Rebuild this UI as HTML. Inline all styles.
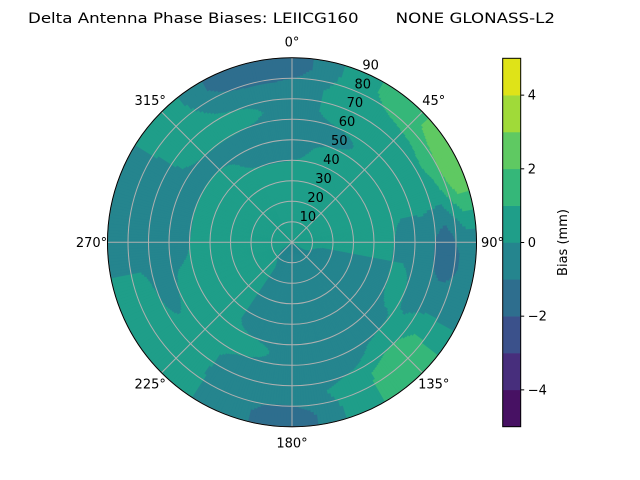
<!DOCTYPE html>
<html><head><meta charset="utf-8"><style>
body{margin:0;background:#fff;}
svg{display:block;font-family:"DejaVu Sans","Liberation Sans",sans-serif;}
</style></head><body>
<svg id="chart" width="640" height="480" viewBox="0 0 640 480">
<text x="28" y="23" font-size="14.5" textLength="527" lengthAdjust="spacingAndGlyphs" style="white-space:pre">Delta Antenna Phase Biases: LEIICG160       NONE GLONASS-L2</text>
<circle cx="292" cy="242.3" r="184.5" fill="#25858e"/>
<g id="field"></g>
<g id="grid"></g>
<circle cx="292" cy="242.3" r="184.5" fill="none" stroke="#000" stroke-width="1"/>
<g id="labels" font-size="13"></g>
<g id="cbar"></g>
<text transform="translate(567,242.5) rotate(-90)" text-anchor="middle" font-size="13">Bias (mm)</text>
</svg>
<script>
// azimuths (deg, clockwise from north) and ring values (elevation bins 0..8)
const azimuths = [0,22.5,45,67.5,90,112.5,135,157.5,180,202.5,225,247.5,270,292.5,315,337.5];
const biasGrid = [
 [0.5,0.5,0.5,0.5,-0.5,-0.5,-0.5,-0.5,-1.5],
 [0.5,0.5,0.5,0.5,0.5,-0.5,0.5,0.5,0.5],
 [0.5,0.5,0.5,0.5,0.5,0.5,0.5,0.9,1.8],
 [0.5,0.5,0.5,0.5,0.5,0.5,0.5,0.9,2.8],
 [0.5,0.5,0.5,0.5,0.5,-0.5,-0.5,-1.5,-0.5],
 [0.5,-0.5,-0.5,-0.5,-0.5,0.5,-0.5,-0.5,-0.5],
 [-0.5,-0.5,-0.5,-0.5,-0.5,-0.5,0.5,1.5,1.5],
 [-0.5,-0.5,-0.5,-0.5,-0.5,-0.5,-0.5,0.5,0.5],
 [-0.5,-0.5,-0.5,-0.5,-0.5,-0.5,-0.5,-0.5,-1.5],
 [-0.5,-0.5,-0.5,-0.5,-0.5,0.5,-0.5,-0.5,-0.5],
 [-0.5,0.5,0.5,0.5,0.5,0.5,0.5,0.5,0.5],
 [0.5,0.5,0.5,0.5,0.5,0.5,-0.5,0.5,0.5],
 [0.5,0.5,0.5,0.5,0.5,-0.5,-0.5,-0.5,-0.5],
 [0.5,0.5,0.5,0.5,0.5,-0.5,-0.5,-0.5,-0.5],
 [0.5,0.5,0.5,0.5,0.5,-0.5,0.5,0.5,0.5],
 [0.5,0.5,0.5,0.5,-0.5,-0.5,0.5,-0.5,-1.5]
];
const levels = [-5,-4,-3,-2,-1,0,1,2,3,4,5];
const levelColors = ["#471163","#472e7c","#3b518b","#2e6e8e","#25858e","#1f9e89","#35b779","#5fc962","#a0da39","#dfe318"];
const ringLabels = [10,20,30,40,50,60,70,80,90];
const angleLabels = [0,45,90,135,180,225,270,315];
const cbarTicks = [-4,-2,0,2,4];

const NS="http://www.w3.org/2000/svg";
const CX=292, CY=242.3, R=184.5, RMAX=90;
const rScale = e => e/RMAX*R;
function pt(az,r){const a=az*Math.PI/180;return [CX+r*Math.sin(a),CY-r*Math.cos(a)];}
function mk(tag,attrs,parent){const el=document.createElementNS(NS,tag);for(const k in attrs)el.setAttribute(k,attrs[k]);parent.appendChild(el);return el;}
function cr(p0,p1,p2,p3,t){return 0.5*((2*p1)+(-p0+p2)*t+(2*p0-5*p1+4*p2-p3)*t*t+(-p0+3*p1-3*p2+p3)*t*t*t);}
function valAt(az,e){
  const n=azimuths.length, step=360/n;
  let f=az/step, i1=Math.floor(f)%n, t=f-Math.floor(f);
  const i0=(i1-1+n)%n, i2=(i1+1)%n, i3=(i1+2)%n;
  let rf=(e-5)/10; if(rf<0)rf=0; if(rf>8)rf=8;
  let j0=Math.floor(rf), j1=Math.min(8,j0+1), s=rf-j0;
  const col=i=>(1-s)*biasGrid[i][j0]+s*biasGrid[i][j1];
  return cr(col(i0),col(i1),col(i2),col(i3),t);
}
function levelIndex(v){for(let k=levels.length-2;k>=0;k--)if(v>=levels[k])return k;return 0;}
const field=document.getElementById('field');
const dA=1, dE=0.5;
for(let az=0;az<360;az+=dA){
  let start=0, cur=levelIndex(valAt(az+dA/2,dE/2));
  for(let e=dE;e<=RMAX+1e-9;e+=dE){
    const idx = e<RMAX-1e-9 ? levelIndex(valAt(az+dA/2,e+dE/2)) : -1;
    if(idx!==cur){
      const r0=rScale(start), r1=rScale(e), a0=az-0.2, a1=az+dA+0.2;
      const p2=pt(a0,r1),p3=pt(a1,r1);
      let d;
      if(r0<=0){d=`M${CX},${CY}L${p2}A${r1},${r1} 0 0 1 ${p3}Z`;}
      else{const p1=pt(a0,r0),p4=pt(a1,r0);d=`M${p1}L${p2}A${r1},${r1} 0 0 1 ${p3}L${p4}A${r0},${r0} 0 0 0 ${p1}Z`;}
      const p=mk('path',{d:d,fill:levelColors[cur],stroke:levelColors[cur],'stroke-width':0.3},field);
      
      
      start=e; cur=idx;
    }
  }
}
const grid=document.getElementById('grid');
ringLabels.forEach(v=>{
  const c=mk('circle',{cx:CX,cy:CY,r:rScale(v),fill:'none',stroke:'#b0b0b0','stroke-width':1},grid);
  
  
});
angleLabels.forEach(a=>{
  const p=pt(a,R);
  const l=mk('line',{x1:CX,y1:CY,x2:p[0],y2:p[1],stroke:'#b0b0b0','stroke-width':1},grid);
  
  
});
const labels=document.getElementById('labels');
angleLabels.forEach(a=>{
  const p=pt(a,R+16);
  const t=mk('text',{x:p[0],y:p[1]+4.5,'text-anchor':'middle'},labels);
  t.textContent=a+'°';
  
  
});
ringLabels.forEach(v=>{
  const p=pt(22.5,rScale(v));
  const t=mk('text',{x:p[0]+8,y:p[1]-2.5,'text-anchor':'middle'},labels);
  t.textContent=v;
  
  
});
const cb=document.getElementById('cbar');
const CB_X=502.7, CB_W=18, CB_T=58.3, CB_B=426.7;
const cbY=v=>CB_B-(v-levels[0])/(levels[levels.length-1]-levels[0])*(CB_B-CB_T);
levelColors.forEach((c,i)=>{
  const r=mk('rect',{x:CB_X,y:cbY(levels[i+1]),width:CB_W,height:cbY(levels[i])-cbY(levels[i+1])+0.3,fill:c},cb);
  
  
});
mk('rect',{x:CB_X,y:CB_T,width:CB_W,height:CB_B-CB_T,fill:'none',stroke:'#000','stroke-width':1},cb);
cbarTicks.forEach(v=>{
  const y=cbY(v);
  mk('line',{x1:CB_X+CB_W,x2:CB_X+CB_W+3.5,y1:y,y2:y,stroke:'#000'},cb);
  const t=mk('text',{x:CB_X+CB_W+7,y:y+4.5,'font-size':13},cb);
  t.textContent=v<0?'\u2212'+(-v):String(v);
  
  
});
</script>
</body></html>
